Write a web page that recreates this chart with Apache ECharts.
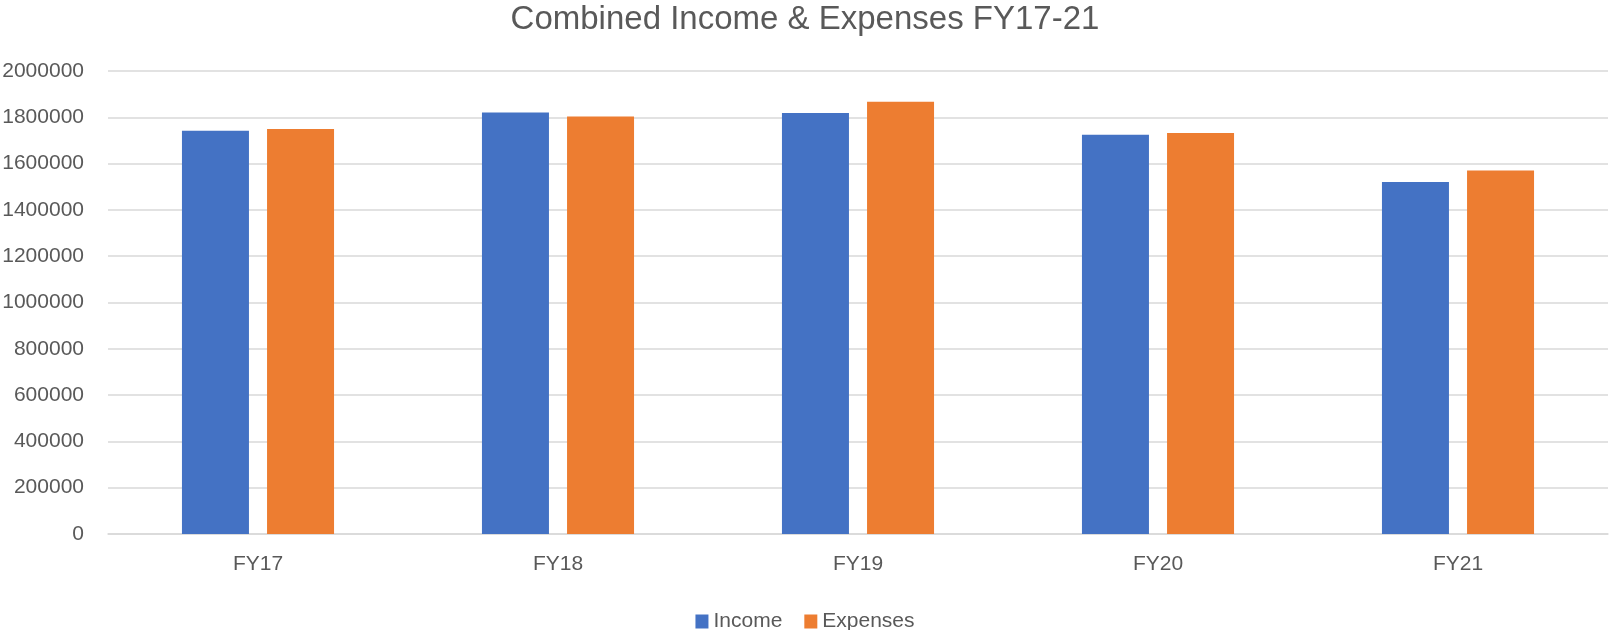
<!DOCTYPE html>
<html lang="en">
<head>
    <meta charset="UTF-8">
    <title>Combined Income & Expenses FY17-21</title>
    <script src="https://cdn.jsdelivr.net/npm/echarts@6/dist/echarts.min.js"></script>
</head>
<style>
    html, body {
        height: 100%;
        margin: 0;
        background: #fff;
    }
</style>
<body>
<div id="main" style="width: 1610px;height:630px"></div>
<script type="text/javascript">
    var years = ['FY17', 'FY18', 'FY19', 'FY20', 'FY21'];
    var income = [1742000, 1821000, 1819000, 1725000, 1521000];
    var expenses = [1749000, 1803000, 1867000, 1732000, 1570000];
    var yTicks = {min: 0, max: 2000000, interval: 200000};

    var font = '"Liberation Sans", Arial, sans-serif';
    var grey = '#595959';

    var myChart = echarts.init(document.getElementById('main'));
    var option = {
        animation: false,
        title: {
            text: 'Combined Income & Expenses FY17-21',
            left: 'center',
            top: 3,
            padding: 0,
            textStyle: {fontFamily: font, fontSize: 33, fontWeight: 'normal', color: grey}
        },
        legend: {
            data: ['Income', 'Expenses'],
            left: 'center',
            top: 606,
            icon: 'rect',
            itemWidth: 13,
            itemHeight: 14,
            itemGap: 22,
            textStyle: {fontFamily: font, fontSize: 21, color: grey}
        },
        grid: {left: 108, right: 2, top: 71, bottom: 96, containLabel: false, outerBoundsMode: 'none'},
        xAxis: {
            type: 'category',
            data: years,
            axisLine: {lineStyle: {color: '#d9d9d9', width: 1.5}},
            axisTick: {show: false},
            axisLabel: {fontFamily: font, fontSize: 21, color: grey, margin: 20}
        },
        yAxis: {
            type: 'value',
            min: yTicks.min,
            max: yTicks.max,
            interval: yTicks.interval,
            axisLabel: {
                fontFamily: font, fontSize: 21, color: grey, margin: 24,
                formatter: function (v) { return String(v); }
            },
            splitLine: {lineStyle: {color: '#d9d9d9', width: 1.5}}
        },
        series: [
            {
                name: 'Income',
                type: 'bar',
                data: income,
                barWidth: 67,
                barGap: '27%',
                itemStyle: {color: '#4472C4'}
            },
            {
                name: 'Expenses',
                type: 'bar',
                data: expenses,
                barWidth: 67,
                itemStyle: {color: '#ED7D31'}
            }
        ]
    };
    myChart.setOption(option);
</script>
</body>
</html>
